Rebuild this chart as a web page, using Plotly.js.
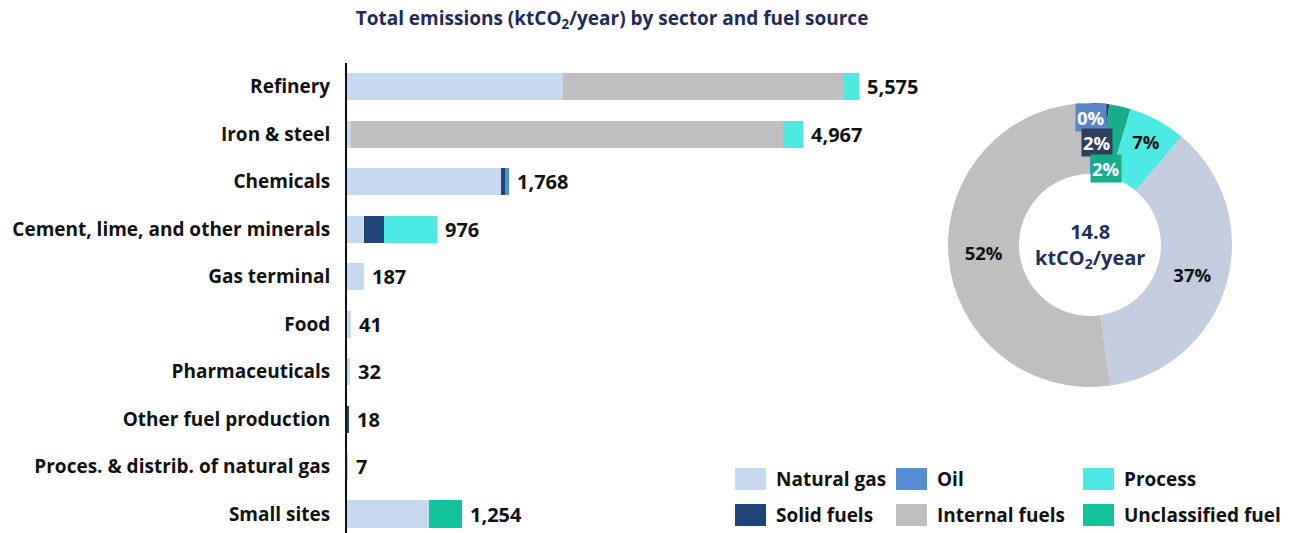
<!DOCTYPE html>
<html>
<head>
<meta charset="utf-8">
<script src="https://cdn.plot.ly/plotly-3.0.1.min.js"></script>
<style>html,body{margin:0;padding:0;background:#fff;}#chart{width:1293px;height:533px;}</style>
</head>
<body>
<div id="chart"></div>
<script>
// ---- DATA ----
const categories = ["Refinery", "Iron & steel", "Chemicals", "Cement, lime, and other minerals",
  "Gas terminal", "Food", "Pharmaceuticals", "Other fuel production",
  "Proces. & distrib. of natural gas", "Small sites"];
const naturalGas   = [2352, 45, 1680, 180, 187, 41, 32, 0, 7, 894];
const solidFuels   = [0, 0, 40, 218, 0, 0, 0, 18, 0, 0];
const oil          = [0, 0, 48, 0, 0, 0, 0, 0, 0, 0];
const internalFuel = [3056, 4697, 0, 0, 0, 0, 0, 0, 0, 0];
const processEm    = [167, 225, 0, 578, 0, 0, 0, 0, 0, 0];
const unclassified = [0, 0, 0, 0, 0, 0, 0, 0, 0, 360];
const centerValue = "14.8";
const titleText = "Total emissions (ktCO<sub>2</sub>/year) by sector and fuel source";

// ---- STYLE ----
const FONT = "'Open Sans', Lato, sans-serif";
const C = {
  ng: "#C6D9F0", solid: "#1F4576", oil: "#558ED5", internal: "#BFBFBF",
  process: "#4DEAE4", unclass: "#11C29A"
};
const series = [
  {name: "Natural gas", data: naturalGas, color: C.ng},
  {name: "Solid fuels", data: solidFuels, color: C.solid},
  {name: "Oil", data: oil, color: C.oil},
  {name: "Internal fuels", data: internalFuel, color: C.internal},
  {name: "Process", data: processEm, color: C.process},
  {name: "Unclassified fuel", data: unclassified, color: C.unclass}
];

const traces = series.map(s => ({
  type: "bar", orientation: "h", name: s.name,
  x: s.data, y: categories, marker: {color: s.color, line: {width: 0}},
  xaxis: "x", yaxis: "y", showlegend: false, hoverinfo: "x+name"
}));

const totals = categories.map((_, i) => series.reduce((a, s) => a + s.data[i], 0));
const sumOf = arr => arr.reduce((a, b) => a + b, 0);

// donut: fuel totals
const donutLabels = ["Oil", "Solid fuels", "Unclassified fuel", "Process", "Natural gas", "Internal fuels"];
const donutValues = [sumOf(oil), sumOf(solidFuels), sumOf(unclassified), sumOf(processEm), sumOf(naturalGas), sumOf(internalFuel)];
const donutColors = [C.oil, "#243A5E", "#17AD8A", C.process, "#C4CCE0", C.internal];
const labelBoxColors = ["#5A86C8", "#2E3F5E", "#17AD8A"];
const grand = sumOf(donutValues);
const pct = v => Math.round(v / grand * 100) + "%";

// pixel -> paper helpers (margins l=347, t=63, b=0, r=0)
const L = 347, T = 63, W = 1293 - 347, H = 533 - 63;
const px = x => (x - L) / W;
const py = y => (533 - y) / H;

traces.push({
  type: "pie", labels: donutLabels, values: donutValues, sort: false,
  direction: "clockwise", rotation: 0, hole: 0.5,
  marker: {colors: donutColors, line: {width: 0}},
  domain: {x: [px(948), px(1232)], y: [py(387), py(103)]},
  texttemplate: "%{percent:.0%}",
  textposition: ["none", "none", "none", "inside", "inside", "inside"],
  insidetextorientation: "horizontal",
  textfont: {family: FONT, size: 18.5, color: "#111", weight: "bold"},
  showlegend: false, hoverinfo: "label+percent"
});

const annotations = [];
// bar totals
categories.forEach((c, i) => {
  annotations.push({
    x: totals[i], y: c, xref: "x", yref: "y", xanchor: "left", yanchor: "middle",
    xshift: 6, showarrow: false, text: totals[i].toLocaleString("en-US"),
    font: {family: FONT, size: 20, color: "#111", weight: "bold"}
  });
});
// small donut labels in coloured boxes
const smallLbl = [
  {i: 0, x: 1091, y: 117},
  {i: 1, x: 1097, y: 142},
  {i: 2, x: 1106, y: 168}
];
smallLbl.forEach(s => annotations.push({
  x: px(s.x), y: py(s.y), xref: "paper", yref: "paper", xanchor: "center", yanchor: "middle",
  showarrow: false, text: pct(donutValues[s.i]), bgcolor: labelBoxColors[s.i], borderpad: 1,
  font: {family: FONT, size: 18.5, color: "#fff", weight: "bold"}
}));
// centre text
annotations.push({
  x: px(1090), y: py(245), xref: "paper", yref: "paper", xanchor: "center", yanchor: "middle",
  showarrow: false, text: centerValue + "<br>ktCO<sub>2</sub>/year",
  font: {family: FONT, size: 20, color: "#1F2F5F", weight: "bold"}
});

// manual legend
const legendItems = [
  {s: 0, col: 0, row: 0}, {s: 2, col: 1, row: 0}, {s: 4, col: 2, row: 0},
  {s: 1, col: 0, row: 1}, {s: 3, col: 1, row: 1}, {s: 5, col: 2, row: 1}
];
const colX = [735, 896, 1083];
const rowY = [479, 515];
const shapes = [];
legendItems.forEach(it => {
  const x0 = colX[it.col], yc = rowY[it.row];
  shapes.push({type: "rect", xref: "paper", yref: "paper",
    x0: px(x0), x1: px(x0 + 31), y0: py(yc + 11), y1: py(yc - 11),
    fillcolor: series[it.s].color, line: {width: 0}});
  annotations.push({x: px(x0 + 39), y: py(yc), xref: "paper", yref: "paper",
    xanchor: "left", yanchor: "middle", showarrow: false, text: series[it.s].name,
    font: {family: FONT, size: 19, color: "#111", weight: "bold"}});
});

const layout = {
  width: 1293, height: 533,
  margin: {l: L, r: 0, t: T, b: 0, pad: 0},
  paper_bgcolor: "#fff", plot_bgcolor: "rgba(0,0,0,0)",
  barmode: "stack", bargap: 0.43,
  title: {text: titleText, xref: "container", yref: "container", x: 612 / 1293, y: 1 - 18 / 533,
    xanchor: "center", yanchor: "middle",
    font: {family: FONT, size: 19, color: "#1F2A5C", weight: "bold"}},
  xaxis: {domain: [0, 0.62], range: [0, 6386], visible: false, fixedrange: true},
  yaxis: {type: "category", categoryarray: categories, range: [9.4, -0.5],
    showline: true, linecolor: "#111", linewidth: 2, showgrid: false, zeroline: false,
    ticks: "", ticklabelstandoff: 11,
    tickfont: {family: FONT, size: 19, color: "#111", weight: "bold"}},
  showlegend: false,
  annotations: annotations, shapes: shapes
};

Plotly.newPlot("chart", traces, layout, {displayModeBar: false, staticPlot: true});
</script>
</body>
</html>
